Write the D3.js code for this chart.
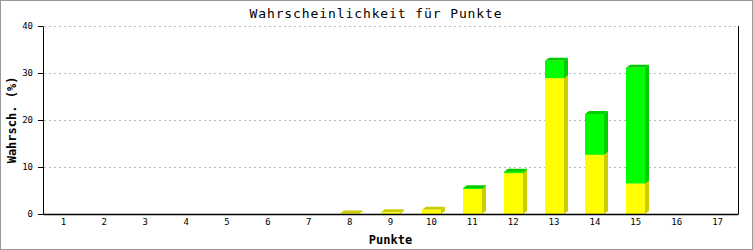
<!DOCTYPE html>
<html>
<head>
<meta charset="utf-8">
<script src="https://cdn.jsdelivr.net/npm/d3@7"></script>
<style>
body { margin:0; background:#fff; }
text { font-family:"DejaVu Sans Mono", monospace; fill:#000; }
.tick text { font-size:9px; }
.title { font-size:13px; letter-spacing:0.9px; }
.label { font-size:12px; font-weight:bold; }
</style>
</head>
<body>
<svg id="chart"></svg>
<script>
//punkte 1..17
var punkte = ["1","2","3","4","5","6","7","8","9","10","11","12","13","14","15","16","17"]
//lower (yellow) and upper (green) part of each stack, in percent
var gelb = [0,0,0,0,0,0,0,0.1,0.35,0.9,5.3,8.7,28.9,12.6,6.5,0,0]
var gruen = [0,0,0,0,0,0,0,0,0,0,0.2,0.3,3.7,8.7,24.6,0,0]
var yTicks = [0,10,20,30,40]

var screen = {width:753,height:250}
var margins = {left:43,right:15,top:26,bottom:36}
var graph = {
    width:screen.width-margins.left-margins.right,
    height:screen.height-margins.top-margins.bottom
}

var svg = d3.select("#chart")
    .attr("width",screen.width)
    .attr("height",screen.height)

//outer border
svg.append("rect")
   .attr("x",0.5).attr("y",0.5)
   .attr("width",screen.width-1).attr("height",screen.height-1)
   .attr("fill","none").attr("stroke","#999")

var xScale = d3.scaleBand()
    .domain(punkte)
    .range([0,graph.width])

var yScale = d3.scaleLinear()
    .domain([0,40])
    .range([graph.height,0])

var target = svg.append("g")
    .attr("transform","translate("+margins.left+","+margins.top+")")

//dotted grid
target.append("g")
    .selectAll("line")
    .data(yTicks.filter(function(t){return t>0}))
    .enter()
    .append("line")
    .attr("x1",1).attr("x2",graph.width)
    .attr("y1",function(t){return Math.round(yScale(t))+0.5})
    .attr("y2",function(t){return Math.round(yScale(t))+0.5})
    .attr("stroke","#bbb")
    .attr("stroke-dasharray","2,3")

//right border
target.append("line")
    .attr("x1",graph.width+0.5).attr("x2",graph.width+0.5)
    .attr("y1",0).attr("y2",graph.height)
    .attr("stroke","black")

//bars, drawn as 3d blocks
var barW = 19, dx = 4, dy = 3
var stacks = punkte.map(function(p,i){
    return [
        {p:p, y0:0, y1:gelb[i], front:"#ffff00", dark:"#cccc00"},
        {p:p, y0:gelb[i], y1:gelb[i]+gruen[i], front:"#00ff00", dark:"#00cc00"}
    ]
})
var segs = []
stacks.forEach(function(s){ s.forEach(function(d){ if(d.y1>d.y0) segs.push(d) }) })

var bars = target.append("g")
    .selectAll("g")
    .data(segs)
    .enter()
    .append("g")

var bx = function(d){ return Math.round(xScale(d.p)+xScale.bandwidth()/2-barW/2) }

bars.append("path")
    .attr("fill",function(d){return d.dark})
    .attr("d",function(d){
        var x0 = bx(d), x1 = x0+barW
        var yt = yScale(d.y1), yb = yScale(d.y0)
        return "M"+x1+","+yb+"L"+x1+","+yt+"L"+(x1+dx)+","+(yt-dy)+
               "L"+(x1+dx)+","+(yb-dy)+"Z"
    })
bars.append("path")
    .attr("fill",function(d){return d.dark})
    .attr("d",function(d){
        var x0 = bx(d), x1 = x0+barW
        var yt = yScale(d.y1)
        return "M"+x0+","+yt+"L"+(x0+dx)+","+(yt-dy)+"L"+(x1+dx)+","+(yt-dy)+
               "L"+x1+","+yt+"Z"
    })
bars.append("rect")
    .attr("fill",function(d){return d.front})
    .attr("x",bx)
    .attr("width",barW)
    .attr("y",function(d){return yScale(d.y1)})
    .attr("height",function(d){return yScale(d.y0)-yScale(d.y1)})

//axes
var xAxis = d3.axisBottom(xScale).tickSize(0).tickPadding(5)
target.append("g")
    .attr("transform","translate(0,"+graph.height+")")
    .call(xAxis)
    .call(function(g){ g.select(".domain").attr("stroke-width",1.5) })

var yAxis = d3.axisLeft(yScale).tickValues(yTicks).tickSizeInner(5).tickSizeOuter(0).tickPadding(5)
target.append("g")
    .call(yAxis)

//labels
svg.append("text")
   .text("Wahrscheinlichkeit für Punkte")
   .classed("title",true)
   .attr("text-anchor","middle")
   .attr("x",376)
   .attr("y",18)

svg.append("text")
   .text("Punkte")
   .classed("label",true)
   .attr("text-anchor","middle")
   .attr("x",margins.left+graph.width/2)
   .attr("y",244)

svg.append("g")
   .attr("transform","translate(16,"+(margins.top+graph.height/2)+")")
   .append("text")
   .text("Wahrsch. (%)")
   .classed("label",true)
   .attr("text-anchor","middle")
   .attr("transform","rotate(-90)")
</script>
</body>
</html>
